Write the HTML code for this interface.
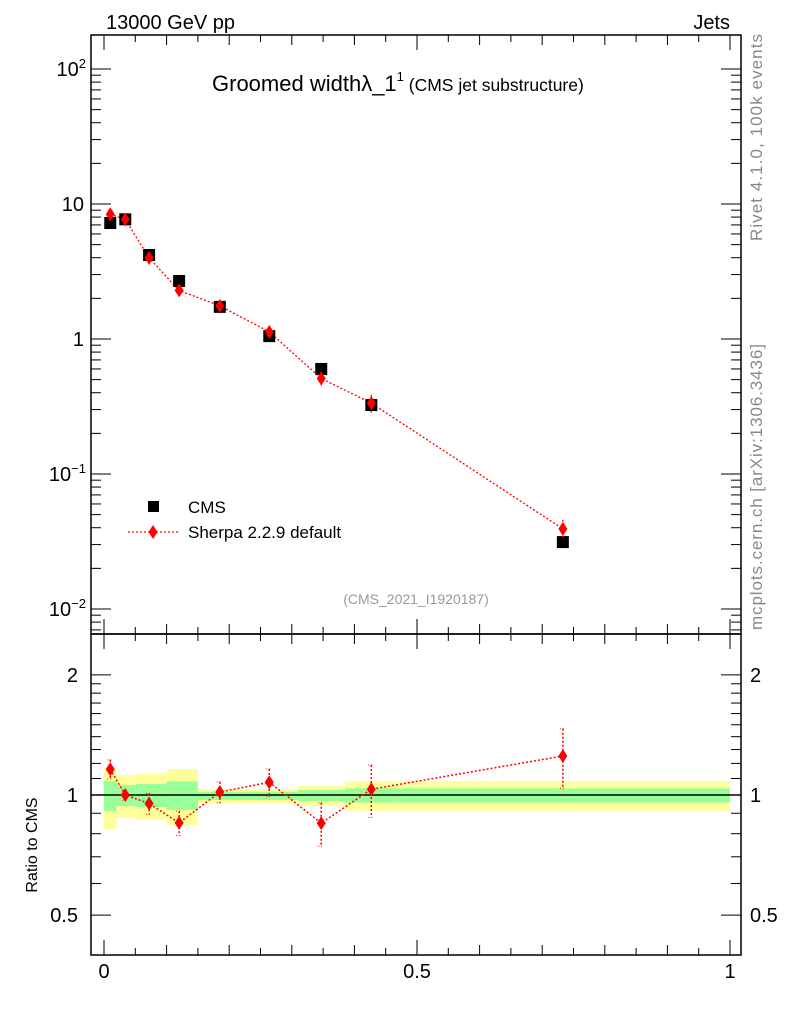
<!DOCTYPE html>
<html><head><meta charset="utf-8"><style>
html,body{margin:0;padding:0;background:#fff;}
svg{display:block;font-family:"Liberation Sans",sans-serif;}
</style></head><body>
<svg id="c" width="786" height="1024" viewBox="0 0 786 1024"></svg>
<script>
const binCenters=[0.01,0.034,0.072,0.12,0.185,0.264,0.347,0.427,0.733];
const cmsValues=[7.23,7.7,4.19,2.69,1.73,1.05,0.6,0.324,0.0313];
const sherpaValues=[8.39,7.7,3.99,2.29,1.76,1.13,0.51,0.335,0.0392];
const sherpaRelErr=[0.055,0.03,0.06,0.07,0.06,0.08,0.125,0.15,0.17];
const bandEdges=[0,0.02,0.05,0.1,0.15,0.31,0.385,0.47,1.0];
const yellowHi=[1.173,1.122,1.131,1.162,1.035,1.053,1.084,1.084];
const yellowLo=[0.822,0.877,0.866,0.838,0.953,0.940,0.913,0.913];
const greenHi=[1.086,1.059,1.066,1.082,1.019,1.029,1.039,1.039];
const greenLo=[0.912,0.938,0.933,0.917,0.972,0.966,0.957,0.957];
const mainYTicks=[[2,"10<tspan dy='-8' font-size='13'>2</tspan>"],[1,"10"],[0,"1"],[-1,"10<tspan dy='-8' font-size='13'>−1</tspan>"],[-2,"10<tspan dy='-8' font-size='13'>−2</tspan>"]];
const ratioTicks=[0.5,1,2];
const xTickLabels=[0,0.5,1];

const NS="http://www.w3.org/2000/svg";
const svg=document.getElementById('c');
function el(t,a,p){const e=document.createElementNS(NS,t);for(const k in a)e.setAttribute(k,a[k]);(p||svg).appendChild(e);return e;}
const L=91,R=741,T=35,MB=634,RB=955;
const X=v=>104+626*v;
const Y=v=>339-135*Math.log10(v);
const RY=v=>795-399*Math.log10(v);

for(let i=0;i<yellowHi.length;i++){
 const x0=X(bandEdges[i]),x1=X(bandEdges[i+1]);
 const y=el('rect',{x:x0,y:RY(yellowHi[i]),width:x1-x0,height:RY(yellowLo[i])-RY(yellowHi[i]),fill:'#ffff99'});
 
 
 const g=el('rect',{x:x0,y:RY(greenHi[i]),width:x1-x0,height:RY(greenLo[i])-RY(greenHi[i]),fill:'#99ff99'});
 
 
}
el('line',{x1:L,x2:R,y1:RY(1),y2:RY(1),stroke:'#000','stroke-width':1.5});

const f1=el('rect',{x:L,y:T,width:R-L,height:MB-T,fill:'none',stroke:'#000','stroke-width':1.5});


const f2=el('rect',{x:L,y:MB,width:R-L,height:RB-MB,fill:'none',stroke:'#000','stroke-width':1.5});



for(let k=0;k<=20;k++){
 const v=k*0.05,x=X(v);
 const len=(k%10==0)?15:(k%2==0?10:7);
 [[T,1],[MB,-1],[MB,1],[RB,-1]].forEach(([y0,d])=>el('line',{x1:x,x2:x,y1:y0,y2:y0+d*len,stroke:'#000'}));
}
xTickLabels.forEach(v=>{const t=el('text',{x:X(v),y:978,'font-size':20,'text-anchor':'middle'});t.textContent=v;
 
 });

for(let d=-3;d<=2;d++){
 for(let m=1;m<10;m++){
  const v=m*Math.pow(10,d),y=Y(v);
  if(y<T||y>MB)continue;
  const len=m==1?20:10;
  el('line',{x1:L,x2:L+len,y1:y,y2:y,stroke:'#000'});
  el('line',{x1:R,x2:R-len,y1:y,y2:y,stroke:'#000'});
 }
}
mainYTicks.forEach(([e,s])=>{const t=el('text',{x:e<0||e==2?86:84,y:Y(Math.pow(10,e))+7,'font-size':20,'text-anchor':'end'});t.innerHTML=s;
 
 });

[0.5,0.6,0.7,0.8,0.9,1,1.1,1.2,1.3,1.4,1.5,1.6,1.7,1.8,1.9,2].forEach(v=>{
 const y=RY(v);const len=(ratioTicks.includes(v))?20:10;
 el('line',{x1:L,x2:L+len,y1:y,y2:y,stroke:'#000'});
 el('line',{x1:R,x2:R-len,y1:y,y2:y,stroke:'#000'});
});
ratioTicks.forEach(v=>{
 const a=el('text',{x:78,y:RY(v)+7,'font-size':20,'text-anchor':'end'});a.textContent=v;
 
 
 const b=el('text',{x:750,y:RY(v)+7,'font-size':20});b.textContent=v;
 
 
});

let pts=binCenters.map((c,i)=>X(c)+','+Y(sherpaValues[i])).join(' ');
el('polyline',{points:pts,fill:'none',stroke:'red','stroke-width':1.3,'stroke-dasharray':'2,2'});
let rpts=binCenters.map((c,i)=>X(c)+','+RY(sherpaValues[i]/cmsValues[i])).join(' ');
el('polyline',{points:rpts,fill:'none',stroke:'red','stroke-width':1.5,'stroke-dasharray':'2,2'});

function diamond(x,y,name){
 const d=el('polygon',{points:`${x},${y-7} ${x+4.5},${y} ${x},${y+7} ${x-4.5},${y}`,fill:'red'});
 
 
}
binCenters.forEach((c,i)=>{
 const x=X(c);
 const s=el('rect',{x:x-6,y:Y(cmsValues[i])-6,width:12,height:12,fill:'#000'});
 
 
 const v=sherpaValues[i],e=sherpaRelErr[i];
 el('line',{x1:x,x2:x,y1:Y(v*(1+e)),y2:Y(v*(1-e)),stroke:'red','stroke-width':1.3,'stroke-dasharray':'2,2'});
 diamond(x,Y(v),'sherpa-point');
 const r=v/cmsValues[i];
 el('line',{x1:x,x2:x,y1:RY(r*(1+e)),y2:RY(r*(1-e)),stroke:'red','stroke-width':1.5,'stroke-dasharray':'2,2'});
 [RY(r*(1+e)),RY(r*(1-e))].forEach(yy=>el('line',{x1:x-3,x2:x+3,y1:yy,y2:yy,stroke:'red','stroke-dasharray':'1,2'}));
 diamond(x,RY(r),'sherpa-ratio-point');
});
</script>
<svg width="786" height="1024" style="position:absolute;left:0;top:0" font-family="Liberation Sans, sans-serif">
<text x="106" y="29" font-size="20">13000 GeV pp</text>
<text x="730" y="29" font-size="20" text-anchor="end">Jets</text>
<text x="212" y="91" font-size="22">Groomed width<tspan>λ</tspan>_1<tspan dy="-10" font-size="13">1</tspan><tspan dy="10" font-size="17.5"> (CMS jet substructure)</tspan></text>
<rect x="148" y="501" width="11" height="11" fill="#000"/>
<text x="188" y="513" font-size="17">CMS</text>
<line x1="128" x2="180" y1="532" y2="532" stroke="red" stroke-width="1.3" stroke-dasharray="2,2"/>
<polygon points="153,525 157.5,532 153,539 148.5,532" fill="red"/>
<text x="188" y="538" font-size="17">Sherpa 2.2.9 default</text>
<text x="416" y="604" font-size="14" fill="#999" text-anchor="middle">(CMS_2021_I1920187)</text>
<text x="0" y="0" font-size="17" fill="#888" transform="translate(762,241) rotate(-90)" textLength="207">Rivet 4.1.0,  100k events</text>
<text x="0" y="0" font-size="17" fill="#888" transform="translate(762,630) rotate(-90)" textLength="286">mcplots.cern.ch [arXiv:1306.3436]</text>
<text x="0" y="0" font-size="16" transform="translate(37,845) rotate(-90)" text-anchor="middle">Ratio to CMS</text>
</svg>
</body></html>
